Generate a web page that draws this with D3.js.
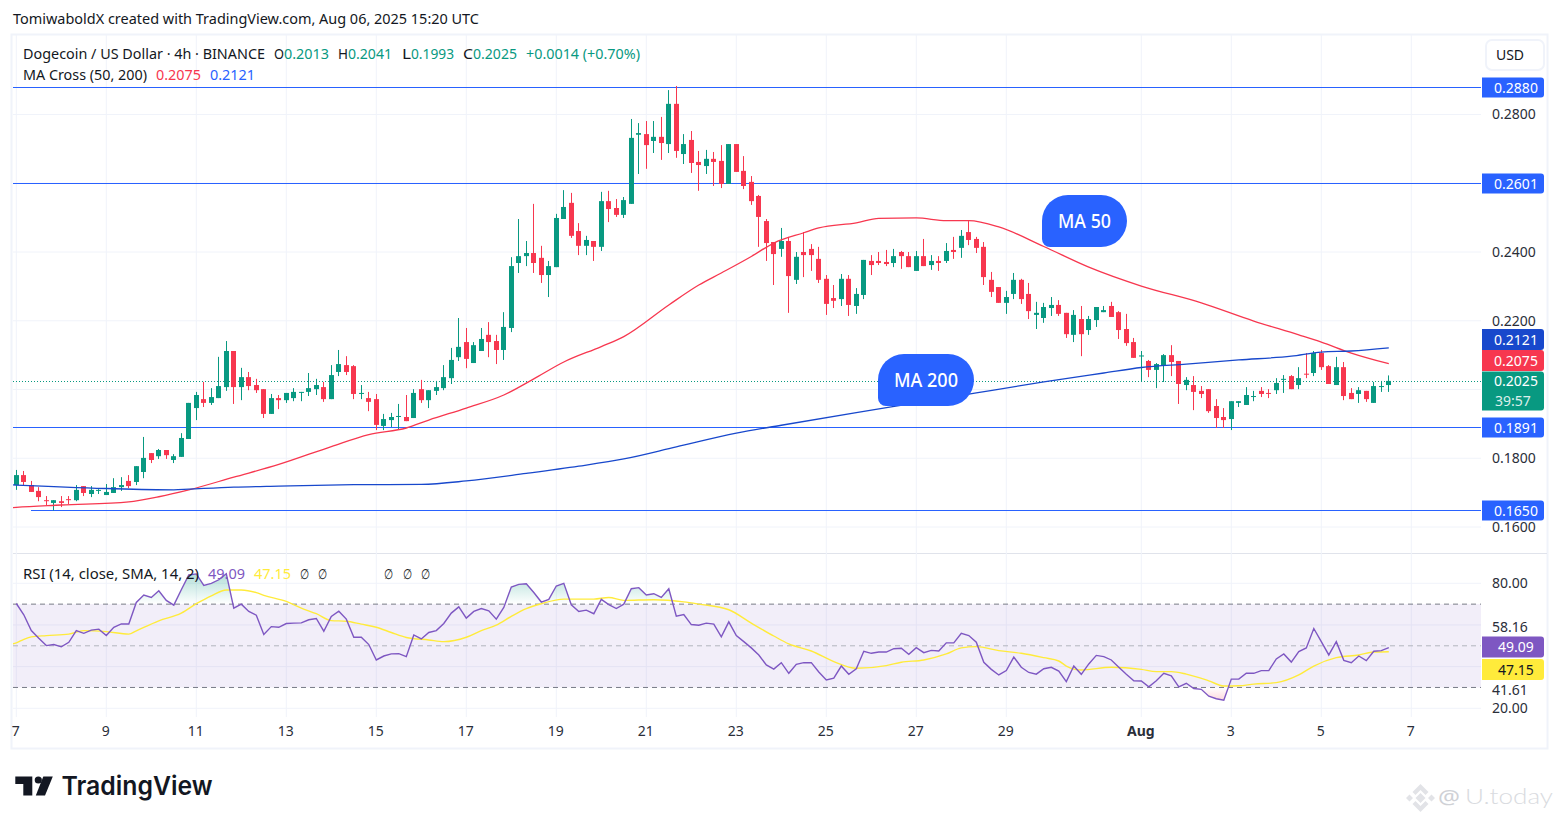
<!DOCTYPE html>
<html><head><meta charset="utf-8">
<script src="https://cdn.jsdelivr.net/npm/d3@7"></script>
<style>html,body{margin:0;padding:0;background:#fff}svg{display:block}text{font-family:"Noto Sans",sans-serif}</style>
</head><body><svg id="c" width="1561" height="824"></svg>
<script>
const startDay = Date.UTC(2025,6,7);
const opens = [
0.1722,0.1751,0.1722,0.1705,0.1678,0.1670,0.1675,0.1681,0.1678,0.1719,
0.1696,0.1705,0.1693,0.1699,0.1716,0.1734,0.1731,0.1760,0.1815,0.1806,
0.1824,0.1795,0.1804,0.1856,0.1946,0.1972,0.1961,0.1975,0.2007,0.2112,
0.2007,0.2036,0.2013,0.2001,0.1929,0.1975,0.1969,0.1975,0.1991,0.1993,
0.2001,0.2007,0.1972,0.2051,0.2071,0.2068,0.1988,0.1975,0.1972,0.1894,
0.1911,0.1921,0.1920,0.1917,0.2001,0.1969,0.1996,0.2004,0.2033,0.2094,
0.2138,0.2077,0.2112,0.2159,0.2141,0.2115,0.2179,0.2368,0.2388,0.2397,
0.2383,0.2333,0.2356,0.2496,0.2543,0.2461,0.2418,0.2432,0.2415,0.2548,
0.2528,0.2508,0.2540,0.2741,0.2743,0.2723,0.2735,0.2714,0.2831,0.2685,
0.2726,0.2662,0.2650,0.2671,0.2665,0.2598,0.2714,0.2636,0.2604,0.2563,
0.2490,0.2429,0.2409,0.2432,0.2319,0.2400,0.2409,0.2380,0.2322,0.2266,
0.2263,0.2322,0.2243,0.2275,0.2374,0.2374,0.2371,0.2368,0.2400,0.2388,
0.2345,0.2388,0.2362,0.2374,0.2374,0.2406,0.2412,0.2458,0.2438,0.2415,
0.2319,0.2298,0.2252,0.2278,0.2319,0.2278,0.2217,0.2208,0.2237,0.2246,
0.2223,0.2159,0.2205,0.2173,0.2202,0.2225,0.2243,0.2225,0.2176,0.2138,
0.2097,0.2083,0.2057,0.2071,0.2100,0.2083,0.2013,0.2013,0.1996,0.2001,
0.1952,0.1920,0.1914,0.1961,0.1955,0.1979,0.1996,0.1990,0.1998,0.2028,
0.2039,0.2013,0.2046,0.2048,0.2106,0.2068,0.2013,0.2065,0.1990,0.1987,
0.1996,0.1961,0.2008,0.2013];
const highs = [
0.1766,0.1763,0.1734,0.1716,0.1690,0.1678,0.1690,0.1690,0.1722,0.1719,
0.1719,0.1710,0.1725,0.1742,0.1745,0.1751,0.1777,0.1862,0.1815,0.1827,
0.1824,0.1812,0.1873,0.1961,0.1993,0.2022,0.2004,0.2095,0.2141,0.2112,
0.2063,0.2051,0.2031,0.2001,0.1987,0.1984,0.1990,0.2004,0.1993,0.2048,
0.2031,0.2022,0.2071,0.2115,0.2097,0.2071,0.2013,0.1993,0.1987,0.1929,
0.1932,0.1958,0.1984,0.2001,0.2028,0.1998,0.2025,0.2071,0.2121,0.2208,
0.2179,0.2138,0.2179,0.2196,0.2159,0.2225,0.2385,0.2496,0.2432,0.2540,
0.2418,0.2374,0.2511,0.2580,0.2572,0.2484,0.2447,0.2432,0.2575,0.2578,
0.2554,0.2560,0.2787,0.2775,0.2781,0.2781,0.2793,0.2871,0.2883,0.2743,
0.2752,0.2694,0.2697,0.2691,0.2711,0.2714,0.2714,0.2679,0.2621,0.2566,
0.2496,0.2429,0.2470,0.2444,0.2400,0.2458,0.2423,0.2415,0.2333,0.2304,
0.2336,0.2333,0.2295,0.2377,0.2391,0.2400,0.2406,0.2409,0.2403,0.2400,
0.2403,0.2438,0.2391,0.2388,0.2426,0.2444,0.2464,0.2490,0.2444,0.2429,
0.2342,0.2298,0.2287,0.2339,0.2322,0.2310,0.2255,0.2252,0.2269,0.2260,
0.2223,0.2231,0.2243,0.2214,0.2240,0.2243,0.2255,0.2228,0.2220,0.2150,
0.2112,0.2086,0.2077,0.2103,0.2129,0.2083,0.2036,0.2039,0.2010,0.2001,
0.1972,0.1946,0.1966,0.1966,0.2007,0.1996,0.2007,0.2001,0.2033,0.2042,
0.2042,0.2065,0.2106,0.2112,0.2115,0.2071,0.2095,0.2080,0.2004,0.2007,
0.1996,0.2022,0.2025,0.2041];
const lows = [
0.1708,0.1722,0.1702,0.1675,0.1664,0.1648,0.1658,0.1667,0.1675,0.1690,
0.1687,0.1696,0.1693,0.1699,0.1705,0.1713,0.1722,0.1742,0.1786,0.1798,
0.1798,0.1786,0.1804,0.1856,0.1911,0.1949,0.1955,0.1975,0.1996,0.1958,
0.1969,0.1998,0.1990,0.1917,0.1929,0.1943,0.1961,0.1966,0.1966,0.1981,
0.1984,0.1964,0.1972,0.2039,0.2042,0.1972,0.1972,0.1937,0.1882,0.1882,
0.1891,0.1885,0.1908,0.1917,0.1961,0.1946,0.1984,0.1998,0.2016,0.2083,
0.2062,0.2077,0.2112,0.2094,0.2074,0.2086,0.2167,0.2339,0.2359,0.2339,
0.2310,0.2269,0.2356,0.2496,0.2441,0.2391,0.2391,0.2374,0.2403,0.2487,
0.2502,0.2499,0.2540,0.2627,0.2642,0.2688,0.2668,0.2688,0.2674,0.2656,
0.2630,0.2578,0.2627,0.2592,0.2586,0.2598,0.2633,0.2583,0.2537,0.2415,
0.2374,0.2304,0.2386,0.2223,0.2307,0.2327,0.2345,0.2310,0.2217,0.2237,
0.2243,0.2214,0.2220,0.2263,0.2333,0.2362,0.2359,0.2356,0.2351,0.2356,
0.2345,0.2359,0.2348,0.2345,0.2368,0.2380,0.2383,0.2420,0.2397,0.2304,
0.2269,0.2252,0.2220,0.2263,0.2249,0.2205,0.2176,0.2194,0.2214,0.2214,
0.2150,0.2138,0.2097,0.2159,0.2182,0.2225,0.2211,0.2147,0.2127,0.2092,
0.2023,0.2036,0.2004,0.2022,0.2039,0.1958,0.1998,0.1940,0.1975,0.1932,
0.1888,0.1888,0.1882,0.1949,0.1955,0.1966,0.1978,0.1975,0.1987,0.1990,
0.2001,0.2001,0.2033,0.2039,0.2057,0.2016,0.2013,0.1969,0.1972,0.1961,
0.1964,0.1961,0.1993,0.1993];
const closes = [
0.1751,0.1731,0.1702,0.1687,0.1677,0.1678,0.1670,0.1679,0.1708,0.1699,
0.1708,0.1708,0.1702,0.1716,0.1722,0.1719,0.1777,0.1801,0.1795,0.1824,
0.1809,0.1806,0.1859,0.1961,0.1984,0.1961,0.1978,0.2010,0.2112,0.2007,
0.2036,0.2010,0.1998,0.1929,0.1975,0.1969,0.1990,0.1993,0.1993,0.2004,
0.2013,0.1972,0.2042,0.2074,0.2051,0.1987,0.1990,0.1964,0.1897,0.1914,
0.1920,0.1923,0.1908,0.1990,0.1969,0.1998,0.2007,0.2036,0.2086,0.2124,
0.2089,0.2129,0.2147,0.2138,0.2115,0.2182,0.2359,0.2388,0.2397,0.2368,
0.2333,0.2359,0.2499,0.2531,0.2447,0.2418,0.2435,0.2415,0.2548,0.2525,
0.2508,0.2551,0.2732,0.2746,0.2711,0.2735,0.2717,0.2831,0.2694,0.2714,
0.2659,0.2653,0.2671,0.2662,0.2598,0.2714,0.2633,0.2592,0.2548,0.2502,
0.2426,0.2394,0.2432,0.2330,0.2386,0.2391,0.2391,0.2319,0.2249,0.2258,
0.2322,0.2246,0.2278,0.2377,0.2362,0.2368,0.2365,0.2388,0.2388,0.2356,
0.2388,0.2359,0.2374,0.2368,0.2403,0.2400,0.2447,0.2435,0.2412,0.2327,
0.2284,0.2252,0.2269,0.2319,0.2263,0.2228,0.2223,0.2240,0.2246,0.2220,
0.2161,0.2217,0.2161,0.2205,0.2240,0.2231,0.2211,0.2173,0.2135,0.2092,
0.2099,0.2057,0.2074,0.2100,0.2080,0.2016,0.2028,0.1993,0.1987,0.1937,
0.1917,0.1911,0.1966,0.1966,0.1984,0.1981,0.1987,0.1988,0.2019,0.2031,
0.2001,0.2033,0.2044,0.2106,0.2065,0.2016,0.2065,0.1981,0.1972,0.1998,
0.1972,0.2010,0.2010,0.2025];

const ma50Bars = [-1,0,6,15,19,23,29,35,42,47,52,55,60,65,69,73,78,81,87,91,94,98,101,105,107,112,115,120,124,127,131,137,143,150,158,165,171,174,178,183];
const ma50Vals = [0.1655,0.1657,0.1664,0.1673,0.1688,0.1708,0.1745,0.1782,0.1834,0.1869,0.1888,0.1911,0.1946,0.1984,0.2031,0.2080,0.2125,0.2154,0.2246,0.2304,0.2339,0.2387,0.2426,0.2456,0.2470,0.2485,0.2498,0.2499,0.2491,0.2491,0.2473,0.2416,0.2356,0.2301,0.2252,0.2199,0.2159,0.2138,0.2106,0.2075];
const ma200Bars = [-1,0,12,21,23,29,35,45,54,60,68,75,81,88,96,102,112,120,128,137,145,150,156,163,170,174,178,183];
const ma200Vals = [0.1723,0.1722,0.1712,0.1708,0.1710,0.1716,0.1719,0.1723,0.1724,0.1734,0.1756,0.1777,0.1798,0.1833,0.1873,0.1896,0.1933,0.1961,0.1990,0.2022,0.2048,0.2064,0.2074,0.2086,0.2097,0.2109,0.2112,0.2121];

const rsiVals = [
70.3,64.9,57.3,53.6,50.1,50.6,49.5,51.7,57.3,56.0,57.5,58.0,54.9,58.9,60.5,60.5,70.8,74.4,73.2,76.4,
71.8,69.5,76.9,84.0,84.5,79.0,80.0,81.7,84.6,68.1,70.0,66.5,64.7,55.4,59.2,58.9,60.7,60.9,61.0,62.5,
63.1,57.0,64.1,66.6,62.8,54.1,54.1,50.6,43.2,45.1,46.1,46.2,44.8,55.2,53.3,56.4,57.3,60.7,65.7,68.7,
63.3,66.5,67.9,66.8,62.8,68.4,78.2,79.5,79.8,75.6,71.0,72.3,78.7,80.0,69.7,66.5,67.1,65.4,72.3,69.8,
67.9,70.0,77.4,77.9,74.4,75.0,73.2,77.4,64.2,65.0,60.2,59.9,60.9,60.4,54.3,61.5,54.9,52.0,49.0,45.6,
40.8,38.8,41.9,36.8,41.1,41.9,41.9,37.4,33.6,34.5,40.3,36.3,39.0,47.4,46.4,47.0,47.0,48.6,48.8,45.9,
49.1,46.7,47.8,47.5,51.4,51.4,56.0,54.9,51.7,42.1,38.7,36.0,38.1,44.6,39.7,37.2,36.4,39.0,39.7,37.9,
32.8,40.3,36.3,41.3,45.4,44.8,43.2,39.7,36.3,33.2,33.1,30.3,33.2,36.8,35.6,30.3,32.0,29.5,29.1,25.8,
24.6,23.9,34.0,34.0,36.8,36.8,38.1,38.1,43.7,46.1,42.2,47.2,49.0,58.3,52.0,45.6,52.0,43.0,41.9,45.1,
42.9,47.4,47.7,49.09];
const rsiMaBars = [-1,0,1,2,4,7,9,12,15,16,19,22,24,26,28,30,32,33,36,38,40,42,44,46,48,50,52,55,57,60,62,64,66,68,70,73,77,79,81,85,89,91,95,98,101,103,106,109,112,116,118,121,124,126,128,131,134,137,139,140,142,146,150,152,154,156,159,161,163,165,168,171,173,176,179,181,183];
const rsiMaVals = [50.6,51.4,53.1,54.3,54.9,55.6,57.3,56.8,55.6,57.2,62.0,65.7,70.2,74.0,76.8,76.8,75.5,74.2,71.3,68.1,65.4,62.1,61.8,60.4,58.9,56.4,54.0,52.8,52.0,54.1,57.3,59.9,64.1,67.8,70.2,72.4,72.4,73.2,71.8,72.1,71.1,70.0,67.3,60.9,54.7,50.9,47.5,42.4,39.2,40.5,42.1,43.2,46.1,49.0,49.6,47.7,46.4,44.3,42.7,40.3,38.4,39.7,38.7,37.6,37.6,36.4,33.2,30.7,30.8,31.6,32.3,36.0,40.3,44.3,45.6,47.0,47.15];

const priceTicks = [0.16,0.18,0.22,0.24,0.28];
const priceGrid = [0.16,0.18,0.20,0.22,0.24,0.26,0.28];
const levelLines = [0.2880,0.2601,0.1891,0.1650];
const rsiGrid = [80,60,40,20];
const rsiTickAt = [80,59.2,28.7,20];
const rsiTickText = ["80.00","58.16","41.61","20.00"];
const dayOffsets = [0,2,4,6,8,10,12,14,16,18,20,22,25,27,29,31];
const dayLabels = ["7","9","11","13","15","17","19","21","23","25","27","29","Aug","3","5","7"];

const GREEN="#089981", RED="#f7374f", BLUE="#2962ff", GRID="#f0f3fa", INK="#131722", AXIS="#2a2e39";
const svg = d3.select("#c");
const DAY=864e5, BAR=4*36e5;
const L=13, R=1481, T=35, MB=553, RT=554, RB=717;
const x = d3.scaleUtc().domain([startDay,startDay+31*DAY]).range([16.3,1411.3]);
const y = d3.scaleLinear().domain([0.16,0.28]).range([527,114.5]);
const ry = d3.scaleLinear().domain([20,80]).range([708.3,583.3]);
const barX = i => x(startDay+i*BAR);
const dayDates = dayOffsets.map(d=>new Date(startDay+d*DAY));

// frame
const defs = svg.append("defs");
defs.append("clipPath").attr("id","main").append("rect").attr("x",L).attr("y",T).attr("width",R-L).attr("height",MB-T);
defs.append("clipPath").attr("id","rsi").append("rect").attr("x",L).attr("y",RT).attr("width",R-L).attr("height",RB-RT);
defs.append("clipPath").attr("id","over").append("rect").attr("x",L).attr("y",RT).attr("width",R-L).attr("height",ry(70)-RT);
defs.append("clipPath").attr("id","under").append("rect").attr("x",L).attr("y",ry(30)).attr("width",R-L).attr("height",RB-ry(30));
const g1=defs.append("linearGradient").attr("id","gOver").attr("gradientUnits","userSpaceOnUse").attr("x1",0).attr("x2",0).attr("y1",ry(85)).attr("y2",ry(70));
g1.append("stop").attr("offset",0).attr("stop-color",GREEN).attr("stop-opacity",.32);
g1.append("stop").attr("offset",1).attr("stop-color",GREEN).attr("stop-opacity",0);
const g2=defs.append("linearGradient").attr("id","gUnder").attr("gradientUnits","userSpaceOnUse").attr("x1",0).attr("x2",0).attr("y1",ry(30)).attr("y2",ry(22));
g2.append("stop").attr("offset",0).attr("stop-color",RED).attr("stop-opacity",0);
g2.append("stop").attr("offset",1).attr("stop-color",RED).attr("stop-opacity",.25);

svg.append("rect").attr("x",11.5).attr("y",34.5).attr("width",1536).attr("height",714).attr("fill","none").attr("stroke","#f0f3fa").attr("stroke-width",2);
svg.append("line").attr("x1",L).attr("x2",1547).attr("y1",553.5).attr("y2",553.5).attr("stroke","#e0e3eb");

// grids
const vg = svg.append("g");
vg.selectAll("line.v1").data(dayDates).join("line").attr("x1",d=>x(d)).attr("x2",d=>x(d)).attr("y1",T).attr("y2",RB).attr("stroke",GRID);
svg.append("g").selectAll("line").data(priceGrid).join("line").attr("x1",L).attr("x2",R).attr("y1",d=>y(d)).attr("y2",d=>y(d)).attr("stroke",GRID);
svg.append("g").selectAll("line").data(rsiGrid).join("line").attr("x1",L).attr("x2",R).attr("y1",d=>ry(d)).attr("y2",d=>ry(d)).attr("stroke",GRID);

// RSI band
const rsiG = svg.append("g").attr("clip-path","url(#rsi)");
rsiG.append("rect").attr("x",L).attr("width",R-L).attr("y",ry(70)).attr("height",ry(30)-ry(70)).attr("fill","#7e57c2").attr("fill-opacity",.1);
[[70,"#787b86",[5,4]],[50,"#b2b5be",[5,4]],[30,"#787b86",[5,4]]].forEach(([v,c,dash])=>{
  rsiG.append("line").attr("x1",L).attr("x2",R).attr("y1",ry(v)).attr("y2",ry(v)).attr("stroke",c).attr("stroke-dasharray",dash.join(" "));
});
rsiG.append("path").attr("clip-path","url(#over)").attr("fill","url(#gOver)")
  .attr("d",d3.area().x((d,i)=>barX(i)).y0(ry(70)).y1(d=>ry(d))(rsiVals));
rsiG.append("path").attr("clip-path","url(#under)").attr("fill","url(#gUnder)")
  .attr("d",d3.area().x((d,i)=>barX(i)).y0(ry(30)).y1(d=>ry(d))(rsiVals));
rsiG.append("path").attr("fill","none").attr("stroke","#ffeb3b").attr("stroke-width",1.4)
  .attr("d",d3.line().curve(d3.curveMonotoneX).x((d,i)=>barX(rsiMaBars[i])).y(d=>ry(d))(rsiMaVals));
rsiG.append("path").attr("fill","none").attr("stroke","#7e57c2").attr("stroke-width",1.4)
  .attr("d",d3.line().x((d,i)=>barX(i)).y(d=>ry(d))(rsiVals));

// main pane
const m = svg.append("g").attr("clip-path","url(#main)");
m.selectAll("line.lvl").data(levelLines).join("line").attr("class","lvl")
  .attr("x1",d=>d===0.1650?31:L).attr("x2",R).attr("y1",d=>Math.round(y(d))+.5).attr("y2",d=>Math.round(y(d))+.5).attr("stroke",BLUE);
m.append("line").attr("x1",L).attr("x2",R).attr("y1",Math.round(y(closes[183]))+.5).attr("y2",Math.round(y(closes[183]))+.5).attr("stroke",GREEN).attr("stroke-dasharray","1 2");
const cg = m.append("g").selectAll("g").data(d3.range(opens.length)).join("g");
const col = i => closes[i]>=opens[i]?GREEN:RED;
const cx = i => Math.floor(barX(i))+.5;
cg.append("line").attr("x1",cx).attr("x2",cx).attr("y1",i=>y(highs[i])).attr("y2",i=>y(lows[i])).attr("stroke",col);
cg.append("rect").attr("x",i=>cx(i)-2.5).attr("width",5)
  .attr("y",i=>y(Math.max(opens[i],closes[i]))).attr("height",i=>Math.max(1,Math.abs(y(opens[i])-y(closes[i])))).attr("fill",col);
const lineBy=(bars)=>d3.line().curve(d3.curveMonotoneX).x((d,i)=>barX(bars[i])).y(d=>y(d));
m.append("path").attr("fill","none").attr("stroke",RED).attr("stroke-width",1.3).attr("d",lineBy(ma50Bars)(ma50Vals));
m.append("path").attr("fill","none").attr("stroke","#1848cc").attr("stroke-width",1.3).attr("d",lineBy(ma200Bars)(ma200Vals));

// axes
const axP = svg.append("g").attr("transform",`translate(${R},0)`).call(d3.axisRight(y).tickValues(priceTicks).tickSize(0).tickPadding(11).tickFormat(d3.format(".4f")));
axP.select(".domain").remove();
axP.selectAll("text").attr("fill",AXIS).attr("font-size",14).style("font-family",'"Noto Sans",sans-serif');
const axR = svg.append("g").attr("transform",`translate(${R},0)`).call(d3.axisRight(ry).tickValues(rsiTickAt).tickSize(0).tickPadding(11).tickFormat((d,i)=>rsiTickText[i]));
axR.select(".domain").remove();
axR.selectAll("text").attr("fill",AXIS).attr("font-size",14).style("font-family",'"Noto Sans",sans-serif');
const axT = svg.append("g").attr("transform",`translate(-1,${RB+6})`).call(d3.axisBottom(x).tickValues(dayDates).tickSize(0).tickPadding(3).tickFormat((d,i)=>dayLabels[i]));
axT.select(".domain").remove();
axT.selectAll("text").attr("fill",AXIS).attr("font-size",14).style("font-family",'"Noto Sans",sans-serif').attr("font-weight",(d,i)=>dayLabels[i]==="Aug"?700:400);

// tags
function tag(yc,h,fill,txt,fg,sub){
  const yy=yc-h/2;
  svg.append("path").attr("d",`M1482 ${yy}H1541a3 3 0 0 1 3 3V${yy+h-3}a3 3 0 0 1 -3 3H1482Z`).attr("fill",fill);
  svg.append("text").attr("x",1516).attr("y",sub?yy+14.5:yc+5).attr("text-anchor","middle").attr("font-size",14).attr("fill",fg).text(txt);
  if(sub) svg.append("text").attr("x",1513).attr("y",yy+34.5).attr("text-anchor","middle").attr("font-size",14).attr("fill",fg).attr("opacity",.85).text(sub);
}
levelLines.forEach(v=>tag(Math.round(y(v))+.5,20,BLUE,d3.format(".4f")(v),"#fff"));
tag(339.5,21,"#1848cc",d3.format(".4f")(ma200Vals[ma200Vals.length-1]),"#fff");
tag(360.5,21,RED,d3.format(".4f")(ma50Vals[ma50Vals.length-1]),"#fff");
tag(391,39,GREEN,d3.format(".4f")(closes[183]),"#fff","39:57");
tag(647,21,"#7e57c2",d3.format(".2f")(rsiVals[183]),"#fff");
tag(669.5,21,"#ffeb3b",d3.format(".2f")(rsiMaVals[rsiMaVals.length-1]),INK);

// USD button
svg.append("rect").attr("x",1486).attr("y",40).attr("width",58).attr("height",30).attr("rx",6).attr("fill","#fff").attr("stroke","#f0f3fa").attr("stroke-width",2);
svg.append("text").attr("x",1510).attr("y",60).attr("text-anchor","middle").attr("font-size",14).attr("fill",INK).text("USD");

// legend / label helper
function t(xx,yy,w,s,fill,size=14,weight=400,fam){
  const e=svg.append("text").attr("x",xx).attr("y",yy).attr("font-size",size).attr("font-weight",weight).attr("fill",fill).text(s);
  if(w) e.attr("textLength",w).attr("lengthAdjust","spacingAndGlyphs");
  if(fam) e.style("font-family",fam);
  return e;
}

// bubbles
function bubble(x0,y0,w,h,txt,tw){
  const r=h/2;
  svg.append("path").attr("d",`M${x0+r} ${y0}H${x0+w-r}a${r} ${r} 0 0 1 0 ${h}H${x0+8}a8 8 0 0 1 -8 -8V${y0+r}a${r} ${r} 0 0 1 ${r} ${-r}Z`).attr("fill",BLUE);
  t(x0+w/2-tw/2,y0+h/2+7,tw,txt,"#fff",20,500);
}
bubble(1042,195,85,52,"MA 50",53);
bubble(878,354,96,52,"MA 200",64);

t(13,24,466,"TomiwaboldX created with TradingView.com, Aug 06, 2025 15:20 UTC",INK);
t(23,59,242,"Dogecoin / US Dollar · 4h · BINANCE",INK);
t(274,59,10,"O",INK); t(284,59,45,"0.2013",GREEN);
t(338,59,10,"H",INK); t(348,59,44,"0.2041",GREEN);
t(402,59,9,"L",INK); t(411,59,43,"0.1993",GREEN);
t(463,59,10,"C",INK); t(473,59,44,"0.2025",GREEN);
t(526,59,114,"+0.0014 (+0.70%)",GREEN);
t(23,80,124,"MA Cross (50, 200)",INK);
t(156,80,45,"0.2075",RED); t(210,80,45,"0.2121",BLUE);
t(23,579,176,"RSI (14, close, SMA, 14, 2)",INK);
t(208,579,37,"49.09","#7e57c2"); t(254,579,37,"47.15","#ffeb3b");
[300,318,384,403,421].forEach(px=>t(px,579,9,"∅",INK));

// logo
const logo=svg.append("g").attr("fill","#131722");
logo.append("path").attr("d","M15.3 776.5H32.3V795.5H23.3V784H15.3Z");
logo.append("circle").attr("cx",38.3).attr("cy",780).attr("r",3.6);
logo.append("path").attr("d","M43.3 776.5H52.8L45 795.5H35.8Z");
t(61.5,795,151,"TradingView","#131722",26,600,"Inter");

// watermark
const wm="#e2e3e7";
const wmk=svg.append("g").attr("fill",wm);
wmk.append("path").attr("d","M1420.5 784l8 8-3 3-5-5-5 5-3-3ZM1406 798l3.5-3.5 3.5 3.5-3.5 3.5ZM1435 798l-3.5-3.5-3.5 3.5 3.5 3.5ZM1420.5 793l5 5-5 5-5-5ZM1420.5 812l-8-8 3-3 5 5 5-5 3 3Z");
t(1438,804,22,"@","#cfd1d6",20,400);
t(1465,804,88,"U.today","#d9dbe0",22,300,"Lato");
</script></body></html>
